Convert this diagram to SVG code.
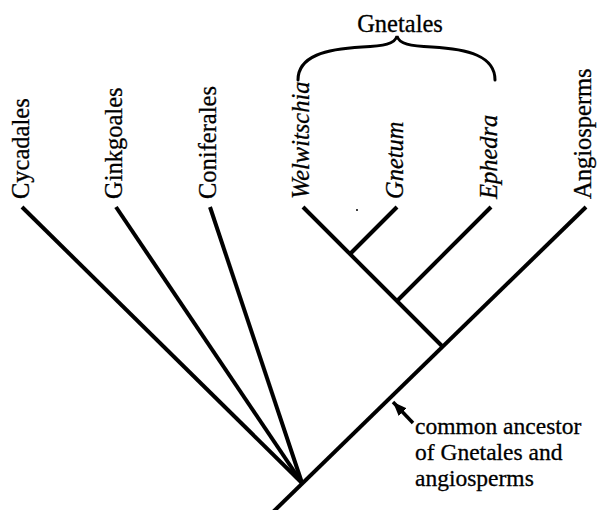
<svg xmlns="http://www.w3.org/2000/svg" width="598" height="510" viewBox="0 0 598 510">
<style>
.lbl{font-family:"Liberation Serif","Times New Roman",serif;font-size:24.5px;fill:#000;stroke:#000;stroke-width:0.3}
.note{font-size:23.5px}
.it{font-style:italic}
.br{fill:none;stroke:#000;stroke-width:4;stroke-linecap:butt}
.brace{fill:none;stroke:#000;stroke-width:3;stroke-linecap:round}
</style>
<defs>
<marker id="ah" viewBox="0 0 14 11" refX="14" refY="5.5" markerWidth="14" markerHeight="11" markerUnits="userSpaceOnUse" orient="auto">
<path d="M0,0 L14,5.5 L0,11 z" fill="#000"/>
</marker>
</defs>
<rect width="598" height="510" fill="#fff"/>
<g id="connectors">
<line class="br" x1="22" y1="207" x2="302" y2="483"/>
<line class="br" x1="116" y1="207" x2="302" y2="483"/>
<line class="br" x1="210" y1="207" x2="302" y2="483"/>
<line class="br" x1="586" y1="207" x2="273" y2="512"/>
<line class="br" x1="303" y1="207" x2="443" y2="347"/>
<line class="br" x1="397" y1="207" x2="350" y2="254"/>
<line class="br" x1="491" y1="207" x2="397" y2="301"/>
<line x1="413" y1="423" x2="393" y2="402" stroke="#000" stroke-width="3.5" marker-end="url(#ah)"/>
</g>
<g id="cycadales"><text class="lbl" transform="translate(29,199) rotate(-90)">Cycadales</text></g>
<g id="ginkgoales"><text class="lbl" transform="translate(122,199) rotate(-90)">Ginkgoales</text></g>
<g id="coniferales"><text class="lbl" transform="translate(216,199) rotate(-90)">Coniferales</text></g>
<g id="welwitschia"><text class="lbl it" transform="translate(309,199) rotate(-90)">Welwitschia</text></g>
<g id="gnetum"><text class="lbl it" transform="translate(403,199) rotate(-90)">Gnetum</text></g>
<g id="ephedra"><text class="lbl it" transform="translate(497,199) rotate(-90)">Ephedra</text></g>
<g id="angiosperms"><text class="lbl" transform="translate(591,199) rotate(-90)">Angiosperms</text></g>
<g id="gnetales">
<path class="brace" d="M298,80 C298,56 326,49 362,47 C384,46 395,44 397,36 C399,44 410,46 432,47 C468,49 495,56 495,80"/>
<text class="lbl" x="400" y="32" text-anchor="middle">Gnetales</text>
</g>
<g id="ancestor-note">
<text class="lbl note" x="415" y="434"><tspan x="415" y="434">common ancestor</tspan><tspan x="415" y="460">of Gnetales and</tspan><tspan x="415" y="486">angiosperms</tspan></text>
</g>
<circle cx="357" cy="210" r="1" fill="#000"/>
</svg>
